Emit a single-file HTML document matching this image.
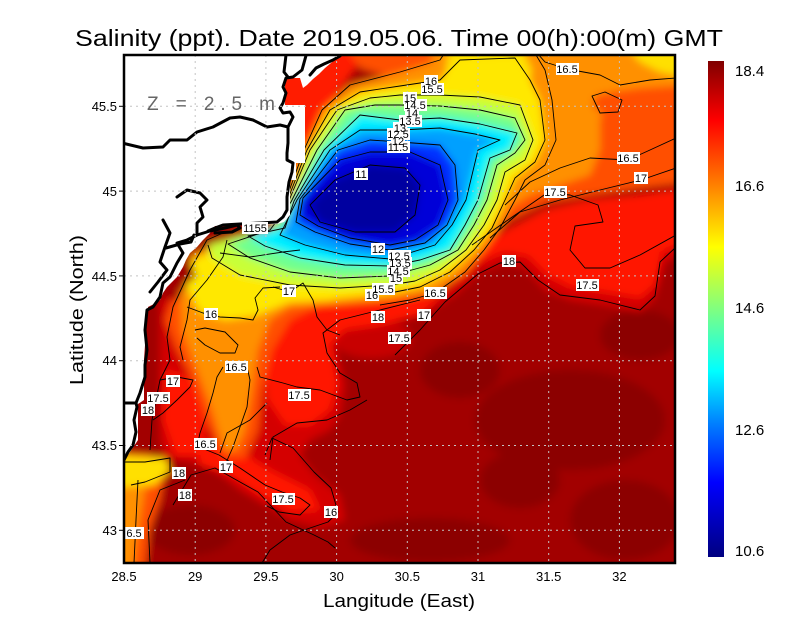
<!DOCTYPE html>
<html><head><meta charset="utf-8"><style>
html,body{margin:0;padding:0;background:#fff;}
svg{display:block;}
text{font-family:"Liberation Sans",sans-serif;}
</style></head><body>
<svg width="800" height="618" viewBox="0 0 800 618" xmlns="http://www.w3.org/2000/svg">
<defs>
<clipPath id="pc"><rect x="124" y="55" width="551" height="508"/></clipPath>
<filter id="bl" filterUnits="userSpaceOnUse" x="0" y="0" width="800" height="618"><feGaussianBlur stdDeviation="4"/></filter>
<linearGradient id="cb" x1="0" y1="0" x2="0" y2="1">
<stop offset="0" stop-color="#800000"/>
<stop offset="0.12" stop-color="#ff0000"/>
<stop offset="0.25" stop-color="#ff8000"/>
<stop offset="0.375" stop-color="#ffff00"/>
<stop offset="0.5" stop-color="#80ff80"/>
<stop offset="0.625" stop-color="#00ffff"/>
<stop offset="0.73" stop-color="#0080ff"/>
<stop offset="0.85" stop-color="#0000ff"/>
<stop offset="1" stop-color="#000080"/>
</linearGradient>
</defs>
<rect width="800" height="618" fill="#fff"/>

<g clip-path="url(#pc)">
<g filter="url(#bl)">
<rect x="90" y="30" width="620" height="570" fill="#a20000"/>
<g fill="#8c0000">
<ellipse cx="570" cy="420" rx="95" ry="50"/>
<ellipse cx="460" cy="370" rx="40" ry="28"/>
<ellipse cx="640" cy="335" rx="40" ry="25"/>
<ellipse cx="190" cy="530" rx="45" ry="25"/>
<ellipse cx="430" cy="540" rx="80" ry="22"/>
<ellipse cx="625" cy="520" rx="55" ry="40"/>
<ellipse cx="520" cy="480" rx="40" ry="28"/>
</g>
<polygon fill="#d40000" points="160,300 250,290 330,290 430,290 460,260 500,240 560,215 620,205 690,195 690,250 665,262 655,298 640,312 610,306 570,300 545,290 525,268 505,262 480,272 455,295 430,310 400,318 370,318 345,322 335,345 345,385 340,415 330,430 310,440 300,455 315,475 340,495 345,520 320,528 290,520 265,505 240,490 215,470 190,462 165,458 160,440 160,380"/>
<ellipse cx="372" cy="338" rx="40" ry="20" fill="#c80000"/>
<polygon fill="#ff1400" points="455,270 480,245 510,228 545,210 590,200 640,195 690,188 690,240 662,252 655,285 640,298 605,292 570,287 548,276 528,256 505,252 478,262 458,282"/>
<polygon fill="#ff1400" points="255,295 300,290 340,296 400,298 440,298 420,315 380,325 345,330 330,345 338,385 330,410 310,425 285,425 268,400 262,350"/>
<polygon fill="#ff1400" points="165,370 195,380 205,420 200,455 175,455 163,420"/>
<polygon fill="#ff1400" points="195,440 230,445 270,470 310,490 320,510 290,512 260,495 230,475 200,465"/>
<polygon fill="#ff1a00" points="280,45 350,45 365,55 350,75 336,95 322,130 310,170 300,210 285,225 270,225"/>
<polygon fill="#ff5000" points="345,45 690,45 690,182 640,188 590,195 545,203 510,220 485,238 470,230 480,200 470,150 440,100 400,80 360,68"/>
<polygon fill="#ff5000" points="172,300 240,288 330,288 350,298 320,305 290,320 272,350 262,390 258,430 245,458 225,458 208,425 195,385 175,345 165,320"/>
<polygon fill="#ff5000" points="110,452 150,455 165,470 160,500 150,530 145,570 110,570"/>
<polygon fill="#ff9000" points="430,45 635,45 660,62 690,75 690,85 640,88 610,92 600,120 600,150 590,175 560,185 530,195 505,210 495,220 485,200 478,160 465,120 440,95"/>
<polygon fill="#ff9000" points="180,290 250,285 320,285 335,292 300,300 270,320 258,350 252,390 245,430 236,450 224,450 212,410 197,370 182,330"/>
<polygon fill="#ff9000" points="110,455 150,458 155,470 145,490 138,530 133,570 110,570"/>
<ellipse cx="607" cy="103" rx="14" ry="10" fill="#ff5000"/>
<polygon fill="#ff9000" points="284,205 304,150 322,110 350,85 400,72 440,60 450,45 530,45 545,70 552,100 556,140 545,165 525,180 515,200 500,228 484,250 465,272 435,293 390,300 340,304 290,307 240,302 200,288 190,255 230,240 270,230"/>
<polygon fill="#ffe000" points="450,45 520,45 532,70 525,95 490,100 460,95 445,75"/>
<polygon fill="#ffe000" points="625,45 690,45 690,78 660,72 640,62"/>
<polygon fill="#ffe800" points="185,285 215,262 260,255 320,270 370,290 330,300 290,302 255,316 225,320 200,312"/>
<polygon fill="#ffe000" points="110,455 165,458 170,470 155,485 110,488"/>
<polygon fill="#ffe800" points="286,204 307,150 330,110 360,92 400,86 440,80 460,60 515,58 530,80 540,100 545,140 535,162 515,178 505,200 492,228 474,250 450,272 420,287 390,293 340,298 290,300 240,296 200,284 190,262 225,244 272,232"/>
<polygon fill="#c8ff38" points="288,203 310,150 337,110 370,98 400,95 440,95 480,97 520,105 533,140 525,160 505,172 497,200 484,225 466,250 440,270 415,281 390,285 340,288 290,285 240,275 212,258 208,245 240,236 275,230"/>
<polygon fill="#70ff90" points="291,202 317,150 345,110 375,105 400,105 440,106 480,110 515,118 525,140 515,153 497,165 487,200 474,225 458,250 430,265 390,276 340,278 290,272 250,258 228,244 270,230"/>
<polygon fill="#00f0ff" points="294,201 324,150 360,115 400,120 440,118 480,124 517,133 510,150 490,158 478,200 465,225 450,250 420,260 390,266 345,265 300,258 265,246 248,236 285,228"/>
<polygon fill="#00a0ff" points="297,200 330,150 360,130 400,130 440,128 475,134 500,140 478,150 466,200 452,225 435,245 390,259 345,255 305,245 280,235"/>
<polygon fill="#0030ff" points="300,199 338,150 370,140 400,142 440,145 455,165 458,200 447,225 425,243 390,250 350,244 315,232 296,222"/>
<polygon fill="#0000d8" points="303,198 340,160 370,152 410,152 440,165 448,200 438,225 415,240 390,245 350,238 318,226 300,215"/>
<polygon fill="#0000a0" points="310,205 335,180 370,165 405,168 420,185 415,215 395,232 355,232 320,222"/>
</g>

<!-- contour lines -->
<g fill="none" stroke="#000" stroke-width="0.9" stroke-linejoin="round">
<polygon points="303,198 340,160 370,152 410,152 440,165 448,200 438,225 415,240 390,245 350,238 318,226 300,215"/>
<polygon points="310,205 335,180 370,165 405,168 420,185 415,215 395,232 355,232 320,222"/>
<polygon points="300,199 338,150 370,140 400,142 440,145 455,165 458,200 447,225 425,243 390,250 350,244 315,232 296,222"/>
<polygon points="297,200 330,150 360,130 400,130 440,128 475,134 500,140 478,150 466,200 452,225 435,245 390,259 345,255 305,245 280,235"/>
<polygon points="294,201 324,150 360,115 400,120 440,118 480,124 517,133 510,150 490,158 478,200 465,225 450,250 420,260 390,266 345,265 300,258 265,246 248,236 285,228"/>
<polygon points="291,202 317,150 345,110 375,105 400,105 440,106 480,110 515,118 525,140 515,153 497,165 487,200 474,225 458,250 430,265 390,276 340,278 290,272 250,258 228,244 270,230"/>
<polyline points="288,203 310,150 337,110 370,98 400,95 440,95 480,97 520,105 533,140 525,160 505,172 497,200 484,225 466,250 440,270 415,281 390,285 340,288 290,285 240,275 212,258 208,245"/>
<polyline points="286,204 307,150 330,110 360,92 400,86 440,80 460,60 515,58 530,80 540,100 545,140 535,162 515,178 505,200 492,228 474,250 450,272 420,287 390,293 365,295"/>
<polyline points="284,205 304,150 322,110 350,85 400,72 440,60 450,45"/>
<polyline points="530,45 545,70 552,100 556,140 545,165 525,180 515,200 500,228 484,250 465,272 435,293 410,300 380,305"/>
<polyline points="220,253 250,257 283,252 300,250"/>
<polyline points="395,355 420,330 445,302 478,274 500,263 520,262 538,280 560,295 600,300 640,310 655,296 660,262 675,248"/>
<polyline points="472,245 505,222 547,193 570,195 598,205 603,222 575,226 570,250 585,268 610,268 640,255 676,235"/>
<polyline points="490,238 520,212 560,200 600,190 641,180 676,168"/>
<polyline points="505,205 530,182 560,168 590,158 628,160 650,150 676,138"/>
<polyline points="530,45 545,62 567,69 600,75 620,85 650,80 676,78"/>
<polygon points="592,96 605,92 622,100 618,112 600,113"/>
<polyline points="223,233 207,240 190,270 173,307 167,337 170,360 160,380 152,420 150,450"/>
<polyline points="227,240 223,257 207,280 190,300 187,320 180,347 183,360"/>
<polyline points="187,307 203,313 220,317 240,318 253,320 258,310 255,298 263,288 280,287"/>
<polyline points="273,287 290,292 303,283 313,300 317,317 327,330 340,335"/>
<polyline points="195,330 205,328 225,332 238,345 235,353 220,353 205,345 197,338"/>
<polyline points="223,367 217,377 213,393 207,413 200,433 197,447"/>
<polyline points="247,367 250,380 247,407 240,427 233,447 225,465"/>
<polyline points="257,367 260,377 283,383 297,387 320,390 347,400 360,397 357,383 340,373 327,353 323,333 340,320 380,310 420,300"/>
<polyline points="267,403 250,420 227,433 220,453"/>
<polyline points="270,460 273,437 297,423 327,420 350,410 367,400"/>
<polyline points="160,380 177,377 193,380 190,387 177,400 163,413 153,420"/>
<polyline points="124,462 145,462 170,458 170,472 145,482 131,485"/>
<polyline points="173,505 191,475 215,468 240,482 258,492 286,522 314,535 328,542 335,548"/>
<polyline points="194,445 219,455 240,468 265,485 282,492 300,498 310,505 300,515 279,512 265,505"/>
<polyline points="265,455 272,438 293,448 314,472 331,488 338,512 328,522 310,528 290,535 270,550 262,563"/>
<polyline points="150,563 148,520 160,490 185,480"/>
<polyline points="138,480 136,520 134,563"/>
</g>

<!-- land mask -->
<path fill="#fff" d="M100,40 L342,40 L342,55 L337,58 L331,63 L325,68 L319,74 L313,79 L307,85 L303,88 L300,78 L288,78 L285,82 L285,105 L305,105 L305,163 L296,163 L296,180 L290,180 L290,215 L284,222 L277,224 L215,226 L210,233 L203,240 L197,247 L190,253 L186,260 L183,267 L177,277 L172,282 L167,287 L163,293 L160,300 L154,304 L148,307 L146,330 L144,360 L144,400 L138,404 L138,440 L130,452 L124,460 L100,460 Z"/>

<!-- coastlines -->
<g fill="none" stroke="#000" stroke-width="3" stroke-linejoin="round" stroke-linecap="round">
<polyline points="307,52 302,70 293,77 286,78 283,87 286,93 283,103 280,108 283,113 290,112 293,117 288,127 288,143 287,153 287,160 293,163 292,172 289,182 287,197 287,210 283,217 277,222 260,223 240,224 223,225 215,228 208,231"/>
<polyline points="122,143 143,148 163,147 170,140 187,140 197,132 213,127 230,118 240,117 253,120 267,127 280,125 288,127"/>
<polyline points="177,197 187,190 200,193 207,200 200,207 203,217 197,223 197,235 187,240 177,243 183,253 177,263 170,277 163,283 160,297 153,307 147,310 145,330 147,350 145,365 145,377 140,393 136,403 124,403"/>
<polyline points="136,403 137,407 134,420 136,432 133,445 128,452 124,460"/>
<polyline points="197,235 210,231 225,228 237,225 240,228 232,232 215,233"/>
<polyline points="286,55 284,72 288,77"/>
<polyline points="310,75 316,68 324,64 333,60 340,56"/>
<polyline points="163,220 170,233 165,247 160,262 167,270 158,282 150,292"/>
<polyline points="166,248 180,244 191,242 194,235"/>
</g>
</g>

<!-- grid -->
<g stroke="#c4c4c4" stroke-width="1" stroke-dasharray="2,4" fill="none">
<line x1="195.2" y1="55" x2="195.2" y2="563"/>
<line x1="265.9" y1="55" x2="265.9" y2="563"/>
<line x1="336.6" y1="55" x2="336.6" y2="563"/>
<line x1="407.3" y1="55" x2="407.3" y2="563"/>
<line x1="478" y1="55" x2="478" y2="563"/>
<line x1="548.7" y1="55" x2="548.7" y2="563"/>
<line x1="619.4" y1="55" x2="619.4" y2="563"/>
<line x1="124" y1="530.3" x2="675" y2="530.3"/>
<line x1="124" y1="445.5" x2="675" y2="445.5"/>
<line x1="124" y1="360.7" x2="675" y2="360.7"/>
<line x1="124" y1="275.9" x2="675" y2="275.9"/>
<line x1="124" y1="191.1" x2="675" y2="191.1"/>
<line x1="124" y1="106.3" x2="675" y2="106.3"/>
</g>

<text x="147" y="110" font-size="19" fill="#666" textLength="128" lengthAdjust="spacing">Z = 2.5 m</text>

<!-- contour labels -->
<g font-size="11" text-anchor="middle" fill="#000">
<g fill="#fff">
<rect x="556" y="63" width="23" height="12"/><rect x="424" y="75" width="14" height="12"/><rect x="421" y="83" width="23" height="12"/>
<rect x="403" y="92" width="14" height="12"/><rect x="404" y="99" width="23" height="12"/><rect x="405" y="107" width="14" height="12"/>
<rect x="399" y="115" width="23" height="12"/><rect x="393" y="122" width="14" height="12"/><rect x="387" y="128" width="23" height="12"/>
<rect x="391" y="135" width="14" height="12"/><rect x="387" y="141" width="23" height="12"/><rect x="354" y="168" width="14" height="12"/>
<rect x="617" y="152" width="23" height="12"/><rect x="634" y="172" width="14" height="12"/><rect x="544" y="186" width="23" height="12"/>
<rect x="242" y="222" width="26" height="12"/><rect x="371" y="243" width="14" height="12"/><rect x="388" y="250" width="23" height="12"/>
<rect x="389" y="257" width="23" height="12"/><rect x="387" y="265" width="23" height="12"/><rect x="389" y="272" width="14" height="12"/>
<rect x="372" y="283" width="23" height="12"/><rect x="365" y="289" width="14" height="12"/><rect x="424" y="287" width="23" height="12"/>
<rect x="502" y="255" width="14" height="12"/><rect x="576" y="279" width="23" height="12"/><rect x="282" y="285" width="14" height="12"/>
<rect x="204" y="308" width="14" height="12"/><rect x="371" y="311" width="14" height="12"/><rect x="417" y="309" width="14" height="12"/>
<rect x="388" y="332" width="23" height="12"/><rect x="225" y="361" width="23" height="12"/><rect x="166" y="375" width="14" height="12"/>
<rect x="147" y="392" width="23" height="12"/><rect x="141" y="404" width="14" height="12"/><rect x="288" y="389" width="23" height="12"/>
<rect x="194" y="438" width="23" height="12"/><rect x="219" y="461" width="14" height="12"/><rect x="172" y="467" width="14" height="12"/>
<rect x="178" y="489" width="14" height="12"/><rect x="272" y="493" width="23" height="12"/><rect x="324" y="506" width="14" height="12"/>
<rect x="125" y="527" width="19" height="12"/>
</g>
<text x="567" y="73">16.5</text><text x="431" y="85">16</text><text x="432" y="93">15.5</text>
<text x="410" y="102">15</text><text x="415" y="109">14.5</text><text x="412" y="117">14</text>
<text x="410" y="125">13.5</text><text x="400" y="132">13</text><text x="398" y="138">12.5</text>
<text x="398" y="145">12</text><text x="398" y="151">11.5</text><text x="361" y="178">11</text>
<text x="628" y="162">16.5</text><text x="641" y="182">17</text><text x="555" y="196">17.5</text>
<text x="255" y="232">1155</text><text x="378" y="253">12</text><text x="399" y="260">12.5</text>
<text x="400" y="267">13.5</text><text x="398" y="275">14.5</text><text x="396" y="282">15</text>
<text x="383" y="293">15.5</text><text x="372" y="299">16</text><text x="435" y="297">16.5</text>
<text x="509" y="265">18</text><text x="587" y="289">17.5</text><text x="289" y="295">17</text>
<text x="211" y="318">16</text><text x="378" y="321">18</text><text x="424" y="319">17</text>
<text x="399" y="342">17.5</text><text x="236" y="371">16.5</text><text x="173" y="385">17</text>
<text x="158" y="402">17.5</text><text x="148" y="414">18</text><text x="299" y="399">17.5</text>
<text x="205" y="448">16.5</text><text x="226" y="471">17</text><text x="179" y="477">18</text>
<text x="185" y="499">18</text><text x="283" y="503">17.5</text><text x="331" y="516">16</text>
<text x="134" y="537">6.5</text>
</g>

<!-- frame -->
<rect x="124" y="55" width="551" height="508" fill="none" stroke="#000" stroke-width="2.5"/>

<!-- ticks -->
<g stroke="#000" stroke-width="1">
<line x1="119" y1="530.3" x2="124" y2="530.3"/><line x1="119" y1="445.5" x2="124" y2="445.5"/>
<line x1="119" y1="360.7" x2="124" y2="360.7"/><line x1="119" y1="275.9" x2="124" y2="275.9"/>
<line x1="119" y1="191.1" x2="124" y2="191.1"/><line x1="119" y1="106.3" x2="124" y2="106.3"/>
</g>
<g font-size="13" text-anchor="end" fill="#000">
<text x="117" y="535">43</text><text x="117" y="450">43.5</text><text x="117" y="365">44</text>
<text x="117" y="281">44.5</text><text x="117" y="196">45</text><text x="117" y="111">45.5</text>
</g>
<g font-size="13" text-anchor="middle" fill="#000">
<text x="124" y="581">28.5</text><text x="195.2" y="581">29</text><text x="265.9" y="581">29.5</text>
<text x="336.6" y="581">30</text><text x="407.3" y="581">30.5</text><text x="478" y="581">31</text>
<text x="548.7" y="581">31.5</text><text x="619.4" y="581">32</text>
</g>
<text x="399" y="607" font-size="18" text-anchor="middle" textLength="152" lengthAdjust="spacingAndGlyphs">Langitude (East)</text>
<text transform="translate(83,310) rotate(-90)" font-size="18" text-anchor="middle" textLength="150" lengthAdjust="spacingAndGlyphs">Latitude (North)</text>
<text x="399" y="46" font-size="23" text-anchor="middle" textLength="648" lengthAdjust="spacingAndGlyphs">Salinity (ppt). Date 2019.05.06. Time 00(h):00(m) GMT</text>

<!-- colorbar -->
<rect x="708" y="61" width="16" height="496" fill="url(#cb)"/>
<g font-size="15" fill="#000">
<text x="735" y="76">18.4</text><text x="735" y="191">16.6</text><text x="735" y="313">14.6</text>
<text x="735" y="435">12.6</text><text x="735" y="556">10.6</text>
</g>
</svg>
</body></html>
